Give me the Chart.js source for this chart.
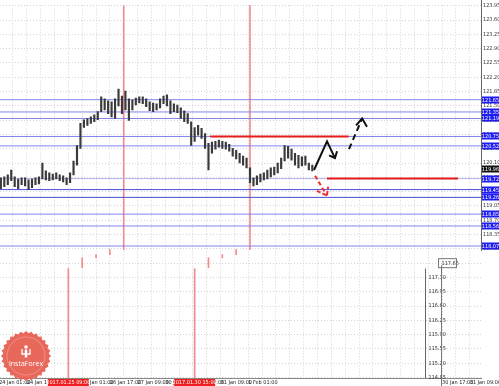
<!DOCTYPE html>
<html>
<head>
<meta charset="utf-8">
<script src="https://cdn.jsdelivr.net/npm/chart.js@4.4.1/dist/chart.umd.min.js"></script>
<style>
  html, body { margin: 0; padding: 0; background: #fff; }
  #chart { display: block; }
</style>
</head>
<body>
<canvas id="chart" width="499" height="386"></canvas>
<script>
// x unit = trading hour counted from 24 Jan 01:00, bars read every 2 hours
const barIdx = [1,3,5,7,9,11,13,15,17,19,21,23,25,27,29,31,33,35,37,39,41,43,45,47,49,51,53,55,57,59,
  61,63,65,67,69,71,73,75,77,79,81,83,85,87,89,91,93,95,97,99,101,103,105,107,109,111,113,115,117,119,
  121,123,125,127,129,131,133,135,137,139,141,143,145,147,149,151,153,155,157,159,161,163,165,167,169,171,173,175,177,179,181];
const barHigh = [119.74,119.76,119.81,119.93,119.76,119.71,119.74,119.74,119.69,119.71,
  119.74,119.76,120.10,119.91,119.86,119.83,119.86,119.81,119.79,119.74,
  119.86,120.15,120.53,121.07,121.16,121.19,121.23,121.28,121.36,121.72,
  121.67,121.62,121.60,121.67,121.91,121.74,121.86,121.67,121.64,121.69,
  121.72,121.72,121.67,121.60,121.57,121.55,121.67,121.74,121.77,121.62,
  121.55,121.52,121.45,121.38,121.31,121.11,120.97,121.02,120.95,120.82,
  120.58,120.61,120.63,120.66,120.63,120.61,120.56,120.46,120.41,120.34,
  120.27,120.22,119.98,119.74,119.79,119.83,119.86,119.93,119.98,120.00,
  120.10,120.22,120.53,120.51,120.44,120.34,120.29,120.25,120.27,120.10,
  120.05];
const barLow = [119.47,119.52,119.57,119.67,119.52,119.47,119.57,119.54,119.45,119.50,
  119.57,119.59,119.71,119.69,119.67,119.69,119.71,119.67,119.64,119.57,
  119.62,119.81,120.05,120.46,120.97,121.02,121.07,121.11,121.16,121.36,
  121.40,121.31,121.23,121.19,121.50,121.31,121.40,121.14,121.40,121.52,
  121.57,121.55,121.48,121.38,121.36,121.40,121.45,121.55,121.50,121.31,
  121.36,121.33,121.19,121.11,121.07,120.53,120.63,120.78,120.70,120.46,
  119.93,120.34,120.44,120.49,120.46,120.44,120.39,120.27,120.20,120.10,
  120.05,119.98,119.62,119.54,119.57,119.64,119.69,119.71,119.76,119.81,
  119.86,119.96,120.15,120.22,120.17,120.05,119.98,120.03,120.05,119.93,
  119.91];

const lastPrice = 119.96;

// horizontal levels with their price boxes
const levels = [121.65, 121.35, 121.19, 120.75, 120.52, 119.72, 119.45, 119.26, 118.85, 118.56, 118.07];

// red horizontal segments
const redLevels = [120.75, 119.72];
const redStarts = [122, 189.5];
const redEnds = [202, 265.2];

// red marks (vertical lines and the stepped ticks under them)
const redMarkX = [40, 48, 56, 64, 72, 113, 121, 129, 137, 145];
const redMarkLow = [114.84, 117.54, 117.78, 117.86, 117.98, 114.84, 117.54, 117.78, 117.86, 117.98];
const redMarkHigh = [117.52, 117.78, 117.86, 117.98, 123.96, 117.52, 117.78, 117.86, 117.98, 123.96];

// drawn forecast arrows
const upPathX = [182, 189.5, 194.1];
const upPathY = [119.93, 120.63, 120.22];
const upHeadX = [190.7, 194.1, 195.3];
const upHeadY = [120.29, 120.22, 120.39];
const dashPathX = [202.2, 209.8];
const dashPathY = [120.44, 121.19];
const dashHeadX = [206.3, 209.8, 212.6];
const dashHeadY = [121.02, 121.19, 120.99];
const downPathX = [182.6, 189.5];
const downPathY = [119.79, 119.30];
const downHeadX = [183.7, 189.5, 190.1];
const downHeadY = [119.42, 119.30, 119.52];

// axes
const priceTicks = [123.95, 123.60, 123.25, 122.90, 122.55, 122.20, 121.85, 121.50, 121.15, 120.80,
  120.45, 120.10, 119.75, 119.40, 119.05, 118.70, 118.35, 118.00, 117.65, 117.30,
  116.95, 116.60, 116.25, 115.90, 115.55, 115.20, 114.85];
const lowerAxisTicks = [117.30, 116.95, 116.60, 116.25, 115.90, 115.55, 115.20, 114.85];
const timeTickVals = [0, 16, 32, 48, 64, 80, 96, 112, 128, 144, 256, 272];
const timeTickText = ['24 Jan 01:00', '24 Jan 17:00', '25 Jan 09:00', '26 Jan 01:00', '26 Jan 17:00',
  '27 Jan 09:00', '30 Jan 01:00', '30 Jan 17:00', '31 Jan 09:00', '1 Feb 01:00', '30 Jan 17:00', '31 Jan 09:00'];
const markerTimes = [40, 113];
const markerText = ['2017.01.25 09:00', '2017.01.30 15:00'];

const tinyFont = '"DejaVu Sans Condensed", "Liberation Sans Narrow", "DejaVu Sans", sans-serif';

function pts(xs, ys) {
  return xs.map((x, i) => ({ x: x, y: ys[i] }));
}

function levelColor(i) {
  if (i === 6 || i === 7) return '#4a4ad8';
  if (i === 5) return '#b4b4ee';
  return '#8383ee';
}

function lineSet(data, color, width, dash, order) {
  return {
    type: 'line', data: data, borderColor: color, borderWidth: width,
    borderDash: dash, pointRadius: 0, tension: 0, order: order
  };
}

const overlay = {
  id: 'overlay',
  afterDraw(chart) {
    const { ctx, chartArea: area, scales: { x, y } } = chart;
    ctx.save();

    // price axis line (upper panel only)
    ctx.strokeStyle = '#666';
    ctx.lineWidth = 1;
    ctx.beginPath();
    ctx.moveTo(Math.round(area.right) + 0.5, 0);
    ctx.lineTo(Math.round(area.right) + 0.5, y.getPixelForValue(117.95));
    ctx.stroke();

    ctx.font = '5.5px ' + tinyFont;
    ctx.textBaseline = 'middle';
    ctx.textAlign = 'center';

    // boxed level prices
    levels.forEach((v) => {
      const yy = Math.round(y.getPixelForValue(v));
      ctx.fillStyle = '#1d1df2';
      ctx.fillRect(area.right + 1, yy - 3.5, 17, 7);
      ctx.fillStyle = '#fff';
      ctx.fillText(v.toFixed(2), area.right + 9.5, yy + 0.5);
    });
    const py = Math.round(y.getPixelForValue(lastPrice));
    ctx.fillStyle = '#111';
    ctx.fillRect(area.right + 1, py - 3.5, 17, 7);
    ctx.fillStyle = '#fff';
    ctx.fillText(lastPrice.toFixed(2), area.right + 9.5, py + 0.5);

    // second price axis in the lower panel
    const ax = Math.round(x.getPixelForValue(246.2)) + 0.5;
    ctx.strokeStyle = '#666';
    ctx.beginPath();
    ctx.moveTo(ax, y.getPixelForValue(117.52));
    ctx.lineTo(ax, area.bottom);
    ctx.stroke();
    ctx.fillStyle = '#333';
    ctx.textAlign = 'left';
    lowerAxisTicks.forEach((v) => {
      ctx.fillText(v.toFixed(2), ax + 3, y.getPixelForValue(v));
    });
    const by = y.getPixelForValue(117.65);
    ctx.fillText('117.65', ax + 16, by);
    ctx.strokeStyle = '#777';
    ctx.strokeRect(ax + 13, by - 4.5, 18, 9);

    // divider of the bottom-right time box
    const dx = Math.round(x.getPixelForValue(256)) - 0.5;
    ctx.beginPath();
    ctx.moveTo(dx, y.getPixelForValue(117.6));
    ctx.lineTo(dx, chart.height);
    ctx.stroke();

    // red time markers on the time axis
    ctx.textAlign = 'center';
    markerTimes.forEach((t, i) => {
      const mx = x.getPixelForValue(t);
      ctx.fillStyle = '#ef1f1f';
      ctx.fillRect(mx - 20.5, area.bottom + 1, 41, 8);
      ctx.fillStyle = '#fff';
      ctx.fillText(markerText[i], mx, area.bottom + 5);
    });

    // watermark
    const cx = 26, cy = 356;
    ctx.beginPath();
    for (let k = 0; k < 56; k++) {
      const r = k % 2 ? 22.8 : 25;
      const a = k * Math.PI / 28;
      const px = cx + r * Math.cos(a), pyy = cy + r * Math.sin(a);
      if (k === 0) ctx.moveTo(px, pyy); else ctx.lineTo(px, pyy);
    }
    ctx.closePath();
    ctx.fillStyle = 'rgba(231, 92, 80, 0.93)';
    ctx.fill();
    ctx.strokeStyle = 'rgba(255,255,255,0.25)';
    ctx.beginPath();
    ctx.arc(cx, cy, 19, 0, Math.PI * 2);
    ctx.stroke();
    ctx.fillStyle = '#fff';
    ctx.beginPath();
    ctx.arc(cx, cy - 9, 1.8, 0, Math.PI * 2);
    ctx.fill();
    ctx.fillRect(cx - 1.2, cy - 6.5, 2.4, 8);
    ctx.strokeStyle = '#fff';
    ctx.lineWidth = 1.3;
    ctx.beginPath();
    ctx.moveTo(cx - 4, cy - 7);
    ctx.lineTo(cx - 4, cy - 2);
    ctx.lineTo(cx + 4, cy - 2);
    ctx.lineTo(cx + 4, cy - 7);
    ctx.stroke();
    ctx.font = '7px "Open Sans", "DejaVu Sans", sans-serif';
    ctx.fillText('InstaForex', cx, cy + 8);

    ctx.restore();
  }
};

const datasets = [];
datasets.push(lineSet(pts(upPathX, upPathY), '#111', 2, [], 0));
datasets.push(lineSet(pts(upHeadX, upHeadY), '#111', 2, [], 0));
datasets.push(lineSet(pts(dashPathX, dashPathY), '#111', 2, [6, 4], 0));
datasets.push(lineSet(pts(dashHeadX, dashHeadY), '#111', 2, [], 0));
datasets.push(lineSet(pts(downPathX, downPathY), '#f52a2a', 2, [4, 3], 0));
datasets.push(lineSet(pts(downHeadX, downHeadY), '#f52a2a', 2, [4, 2], 0));
redLevels.forEach((v, i) => {
  datasets.push(lineSet([{ x: redStarts[i], y: v }, { x: redEnds[i], y: v }], '#e51c1c', 2, [], 1));
});
datasets.push({
  type: 'bar',
  data: barIdx.map((b, i) => ({ x: b, y: [barLow[i], barHigh[i]] })),
  backgroundColor: '#3a3a3a',
  barThickness: 1.5,
  grouped: false,
  order: 2
});
levels.forEach((v, i) => {
  datasets.push(lineSet([{ x: 0.5, y: v }, { x: 278.5, y: v }], levelColor(i), 1, [], 3));
});
datasets.push({
  type: 'bar',
  data: redMarkX.map((b, i) => ({ x: b, y: [redMarkLow[i], redMarkHigh[i]] })),
  backgroundColor: '#f28c8c',
  barThickness: 1,
  grouped: false,
  order: 4
});

new Chart(document.getElementById('chart'), {
  type: 'bar',
  data: { datasets: datasets },
  options: {
    responsive: false,
    animation: false,
    devicePixelRatio: 1,
    layout: { padding: 0 },
    plugins: { legend: { display: false }, tooltip: { enabled: false } },
    scales: {
      x: {
        type: 'linear',
        min: 0.5,
        max: 278.5,
        offset: false,
        grid: { offset: false, color: '#d4d4d4', drawTicks: false },
        border: { display: true, color: '#888', dash: [1, 2] },
        afterBuildTicks(scale) {
          const t = [];
          for (let v = 0; v <= 272; v += 8) t.push({ value: v });
          scale.ticks = t;
        },
        afterFit(scale) {
          scale.height = 8;
          scale.paddingLeft = 0;
          scale.paddingRight = 0;
        },
        ticks: {
          autoSkip: false,
          maxRotation: 0,
          align: 'start',
          padding: 1,
          color: '#222',
          font: { size: 5.5, family: tinyFont },
          callback: (value) => {
            const i = timeTickVals.indexOf(value);
            return i >= 0 ? timeTickText[i] : '';
          }
        }
      },
      y: {
        position: 'right',
        min: 114.84,
        max: 123.96,
        grid: { color: '#d4d4d4', drawTicks: false },
        border: { display: false, dash: [1, 2] },
        afterBuildTicks(scale) {
          scale.ticks = priceTicks.map((v) => ({ value: v }));
        },
        afterFit(scale) {
          scale.width = 18;
        },
        ticks: {
          padding: 2,
          color: '#333',
          font: { size: 5.5, family: tinyFont },
          callback: (value) => (value >= 117.99 ? value.toFixed(2) : '')
        }
      }
    }
  },
  plugins: [overlay]
});
</script>
</body>
</html>
